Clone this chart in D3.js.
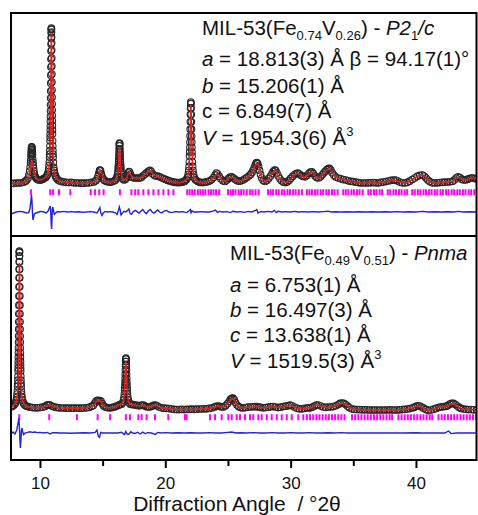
<!DOCTYPE html>
<html>
<head>
<meta charset="utf-8">
<script src="https://cdn.jsdelivr.net/npm/d3@7"></script>
<style>
  body { margin: 0; background: #fff; }
  svg text { font-family: "Liberation Sans", Arial, sans-serif; white-space: pre; }
</style>
</head>
<body>
<div class="wrapper"></div>
<script>
// observed / calculated patterns, rows are [2theta, Iobs, Icalc] (relative intensity)
var topPattern = [
  [7.70,0.3,0.3],[7.90,0.3,0.3],[8.10,0.4,0.4],[8.30,0.5,0.5],[8.50,0.6,0.6],[8.70,0.9,0.9],[8.85,1.4,1.3],[8.95,2.0,1.8],
  [9.05,3.0,2.6],[9.12,4.5,3.6],[9.18,6.5,5.0],[9.22,8.5,6.5],[9.25,10.5,7.8],[9.27,12.0,8.8],[9.29,14.0,9.6],[9.30,15.0,10.0],
  [9.31,16.0,10.4],[9.32,17.0,10.8],[9.33,18.0,11.0],[9.34,18.6,11.2],[9.35,18.5,11.2],[9.36,18.0,11.2],[9.37,17.3,11.0],
  [9.38,16.5,10.8],[9.39,15.5,10.6],[9.40,14.5,10.4],[9.42,12.5,10.0],[9.44,10.8,9.6],[9.46,9.3,9.2],[9.48,8.0,8.6],
  [9.51,6.6,7.6],[9.55,5.2,6.0],[9.60,4.0,4.6],[9.66,3.2,3.4],[9.73,2.6,2.7],[9.82,2.2,2.2],[9.92,2.0,2.0],[10.02,2.0,2.0],
  [10.10,2.1,2.1],[10.18,2.3,2.3],[10.28,2.6,2.6],[10.38,3.0,3.0],[10.47,3.4,3.4],[10.55,4.1,4.1],[10.61,4.9,4.9],[10.66,6.0,6.0],
  [10.70,7.5,7.5],[10.73,9.3,9.1],[10.75,11.0,10.7],[10.77,13.4,12.9],[10.78,14.9,14.3],[10.79,16.7,15.9],[10.80,19.0,18.0],
  [10.81,21.5,20.5],[10.815,23.2,22.0],[10.82,25.0,23.6],[10.825,27.0,25.4],[10.83,29.0,27.2],[10.835,31.3,29.2],[10.84,33.8,31.4],
  [10.845,36.6,33.8],[10.85,39.6,36.5],[10.855,43.0,39.5],[10.86,46.5,42.8],[10.865,50.4,46.4],[10.87,54.4,50.2],[10.875,58.5,54.2],
  [10.88,62.5,58.2],[10.885,66.5,62.2],[10.89,70.0,66.0],[10.895,73.0,69.4],[10.90,75.5,72.2],[10.905,77.2,74.2],[10.91,78.0,75.3],
  [10.915,77.5,75.5],[10.92,76.0,74.8],[10.925,73.5,73.2],[10.93,70.5,70.8],[10.935,67.0,67.8],[10.94,63.0,64.4],[10.945,59.0,60.8],
  [10.95,55.0,57.0],[10.955,51.0,53.2],[10.96,47.0,49.4],[10.965,43.4,45.8],[10.97,40.0,42.3],[10.975,37.0,39.1],[10.98,34.2,36.1],
  [10.985,31.6,33.4],[10.99,29.2,30.9],[10.995,27.0,28.6],[11.00,25.0,26.5],[11.01,21.6,22.8],[11.02,19.0,19.9],[11.03,16.8,17.6],
  [11.04,15.0,15.6],[11.05,13.4,13.9],[11.07,10.8,11.2],[11.10,8.3,8.6],[11.13,6.8,6.8],[11.17,5.4,5.4],[11.22,4.3,4.3],
  [11.28,3.4,3.4],[11.35,2.7,2.7],[11.45,2.0,2.0],[11.58,1.5,1.5],[11.72,1.2,1.2],[11.90,1.0,1.0],
  [12.10,0.8,0.8],[12.30,0.7,0.7],[12.50,0.8,0.8],[12.70,0.6,0.6],[12.90,0.5,0.5],[13.10,0.5,0.5],[13.30,0.4,0.4],[13.50,0.4,0.4],
  [13.70,0.5,0.5],[13.90,0.6,0.6],[14.10,0.8,0.8],[14.30,1.0,1.0],[14.45,1.6,1.6],[14.55,2.5,2.4],[14.63,3.8,3.4],[14.70,5.5,4.9],
  [14.76,6.8,6.2],[14.80,7.0,6.6],[14.84,6.5,6.6],[14.90,5.0,5.8],[14.97,3.5,4.4],[15.05,2.5,3.0],[15.15,1.8,2.0],[15.30,1.3,1.3],
  [15.45,1.0,1.0],[15.60,0.9,0.9],[15.75,1.1,1.1],[15.90,1.5,1.5],[16.00,1.9,1.9],[16.10,2.8,2.8],[16.16,3.8,3.8],[16.20,4.9,4.9],
  [16.23,6.3,6.3],[16.25,7.8,7.8],[16.26,8.7,8.7],[16.27,9.7,9.7],[16.28,11.0,11.0],[16.29,12.5,12.3],[16.30,14.1,13.6],
  [16.31,15.8,14.9],[16.32,17.5,16.2],[16.33,19.1,17.2],[16.34,20.1,17.8],[16.35,20.5,18.0],[16.36,20.1,17.9],[16.37,19.1,17.4],
  [16.38,17.5,16.5],[16.39,15.8,15.3],[16.40,14.1,13.9],[16.41,12.5,12.5],[16.42,11.0,11.0],[16.43,9.7,9.7],[16.44,8.7,8.7],
  [16.45,7.8,7.8],[16.47,6.3,6.3],[16.50,4.9,4.9],[16.54,3.8,3.8],[16.60,2.6,2.6],[16.70,2.0,2.0],[16.80,2.2,2.2],[16.90,3.0,3.0],
  [16.98,4.2,4.0],[17.05,5.5,5.2],[17.10,6.2,5.8],[17.15,6.0,5.9],[17.22,4.8,5.0],[17.30,3.6,3.8],[17.40,3.2,3.2],[17.55,3.0,3.0],
  [17.70,3.0,3.0],[17.85,3.0,3.0],[17.98,3.0,3.0],[18.10,3.4,3.4],[18.25,4.2,4.0],[18.40,5.0,4.9],[18.55,5.8,5.7],[18.68,6.5,6.3],
  [18.78,6.8,6.6],[18.88,6.2,6.1],[19.00,5.0,5.0],[19.15,4.2,4.3],[19.30,4.0,4.0],[19.45,3.8,3.6],[19.60,3.5,3.4],[19.75,3.0,3.0],
  [19.90,2.6,2.6],[20.05,2.2,2.1],[20.20,1.8,1.7],[20.35,1.5,1.5],[20.50,1.2,1.2],[20.65,1.0,1.0],[20.80,0.8,0.8],[20.95,0.7,0.7],
  [21.10,0.7,0.7],[21.25,0.8,0.8],[21.40,1.0,1.0],[21.52,1.3,1.3],[21.59,1.7,1.7],[21.69,2.3,2.3],[21.77,3.3,3.3],[21.83,4.8,4.8],
  [21.87,6.7,6.7],[21.90,8.8,8.8],[21.92,11.0,11.0],[21.94,14.0,13.8],[21.95,16.0,15.7],[21.96,18.2,17.8],[21.97,20.9,20.4],
  [21.98,24.0,23.4],[21.99,27.4,26.6],[22.00,31.1,30.1],[22.01,34.8,33.6],[22.02,38.0,36.8],[22.03,40.2,38.8],[22.04,41.0,39.5],
  [22.05,40.2,39.0],[22.06,38.0,37.2],[22.07,34.8,34.4],[22.08,31.1,30.9],[22.09,27.4,27.3],[22.10,24.0,24.0],[22.11,20.9,20.9],
  [22.12,18.2,18.2],[22.13,16.0,16.0],[22.14,14.0,14.0],[22.16,11.0,11.0],[22.18,8.8,8.8],[22.21,6.7,6.7],[22.25,4.8,4.8],
  [22.31,3.3,3.3],[22.39,2.3,2.3],[22.49,1.7,1.7],[22.62,1.2,1.2],[22.78,0.8,0.8],[22.95,0.7,0.7],[23.10,0.8,0.8],[23.25,1.0,1.0],
  [23.40,1.2,1.2],[23.55,1.6,1.6],[23.70,2.2,2.2],[23.85,3.2,3.0],[23.97,4.5,4.0],[24.08,5.5,4.8],[24.18,5.0,4.9],[24.30,3.8,3.6],
  [24.45,2.5,2.4],[24.60,1.6,1.6],[24.76,1.3,1.3],[24.92,2.0,1.9],[25.05,2.8,2.8],[25.18,3.4,3.5],[25.30,3.6,3.4],[25.45,3.0,2.9],
  [25.60,2.2,2.2],[25.75,1.6,1.6],[25.90,1.4,1.4],[26.05,1.6,1.6],[26.20,2.0,2.0],[26.35,2.6,2.6],[26.50,3.2,3.2],[26.65,4.0,4.0],
  [26.80,4.8,4.8],[26.92,5.8,5.8],[27.02,7.0,6.9],[27.10,8.2,8.0],[27.18,9.5,9.1],[27.25,10.4,9.8],[27.31,10.7,10.0],[27.37,10.2,10.2],
  [27.44,8.8,9.2],[27.52,6.8,7.0],[27.60,4.8,4.9],[27.70,3.0,3.0],[27.82,1.8,1.8],[27.96,1.3,1.3],[28.10,1.8,1.8],[28.25,2.8,2.8],
  [28.40,4.0,4.0],[28.52,5.2,5.0],[28.62,6.3,6.0],[28.72,7.0,6.6],[28.80,6.8,6.8],[28.90,5.6,5.8],[29.02,4.0,4.0],[29.15,2.6,2.6],
  [29.30,1.5,1.5],[29.45,0.9,0.9],[29.58,0.7,0.7],[29.72,1.0,1.0],[29.86,1.8,1.8],[30.00,2.8,2.8],[30.15,3.8,3.7],[30.30,4.6,4.4],
  [30.45,5.2,5.1],[30.58,5.5,5.5],[30.70,5.0,5.0],[30.85,4.2,4.2],[31.00,3.8,3.8],[31.15,3.6,3.6],[31.30,4.2,4.2],[31.45,5.2,5.0],
  [31.58,5.9,5.7],[31.70,6.1,6.0],[31.82,5.2,5.2],[31.95,4.0,4.0],[32.08,3.2,3.2],[32.22,3.0,3.0],[32.38,3.6,3.6],[32.52,4.6,4.6],
  [32.65,5.6,5.5],[32.78,6.4,6.3],[32.90,7.2,7.0],[33.00,7.7,7.4],[33.10,7.8,7.6],[33.20,7.0,7.1],[33.32,5.6,5.7],[33.45,4.4,4.4],
  [33.60,3.5,3.5],[33.80,3.0,3.0],[34.00,2.6,2.6],[34.20,2.2,2.2],[34.40,2.0,2.0],[34.60,1.6,1.6],[34.80,1.3,1.3],[35.00,1.2,1.2],
  [35.20,0.9,0.9],[35.40,0.7,0.7],[35.60,0.5,0.5],[35.80,0.5,0.5],[36.00,0.5,0.5],[36.20,0.6,0.6],[36.40,0.6,0.6],[36.60,0.7,0.7],
  [36.80,0.6,0.6],[37.00,0.5,0.5],[37.20,0.8,0.8],[37.40,1.0,1.0],[37.60,1.2,1.2],[37.80,1.5,1.5],[38.00,1.8,1.8],[38.20,2.0,2.0],
  [38.35,2.0,1.9],[38.50,1.6,1.6],[38.70,1.0,1.0],[38.90,0.6,0.6],[39.10,0.5,0.5],[39.30,0.8,0.8],[39.50,1.4,1.4],[39.70,2.2,2.2],
  [39.90,3.0,3.0],[40.10,3.8,3.8],[40.30,4.3,4.2],[40.50,4.5,4.3],[40.65,4.0,4.0],[40.80,3.0,3.1],[40.95,2.0,2.0],[41.10,1.2,1.2],
  [41.30,0.6,0.6],[41.50,0.5,0.5],[41.70,0.6,0.6],[41.90,0.7,0.7],[42.10,0.8,0.8],[42.30,0.9,0.9],[42.50,1.0,1.0],[42.70,1.1,1.1],
  [42.90,1.3,1.3],[43.05,2.0,2.0],[43.20,3.0,2.9],[43.35,3.6,3.4],[43.50,3.2,3.2],[43.65,2.4,2.4],[43.80,2.0,2.0],[43.95,2.0,2.0],
  [44.10,2.3,2.3],[44.25,2.7,2.7],[44.40,3.0,3.0],[44.55,3.0,3.0],[44.70,2.7,2.7],[44.85,2.5,2.5]
];

var bottomPattern = [
  [7.70,1.0,1.0],[7.80,1.4,1.4],[7.91,1.9,1.9],[7.99,2.5,2.4],[8.06,3.3,3.1],[8.11,4.4,4.0],[8.15,5.8,5.2],[8.18,7.5,6.6],
  [8.20,9.1,8.0],[8.22,11.3,9.8],[8.23,12.7,11.0],[8.24,14.4,12.5],[8.25,16.4,14.2],[8.26,19.0,16.4],[8.265,20.4,17.6],
  [8.27,22.1,19.1],[8.275,23.9,20.7],[8.28,25.9,22.5],[8.285,28.1,24.4],[8.29,30.6,26.6],[8.295,33.4,29.0],[8.30,36.5,31.8],
  [8.305,39.9,34.8],[8.31,43.6,38.1],[8.315,47.6,41.7],[8.32,51.9,45.6],[8.325,56.5,49.8],[8.33,61.1,54.2],[8.335,65.6,58.5],
  [8.34,69.9,62.6],[8.345,73.6,66.3],[8.35,76.5,69.6],[8.355,78.4,71.8],[8.36,79.0,73.0],[8.365,78.4,72.8],[8.37,76.5,71.6],
  [8.375,73.6,69.4],[8.38,69.9,66.5],[8.385,65.6,63.0],[8.39,61.1,59.2],[8.395,56.5,55.2],[8.40,51.9,51.0],[8.405,47.6,47.2],
  [8.41,43.6,43.6],[8.415,39.9,40.2],[8.42,36.5,37.0],[8.425,33.4,34.0],[8.43,30.6,31.3],[8.435,28.1,28.8],[8.44,25.9,26.6],
  [8.445,23.9,24.6],[8.45,22.1,22.8],[8.455,20.4,21.1],[8.46,19.0,19.6],[8.47,16.4,16.9],[8.48,14.4,14.8],[8.49,12.7,13.0],
  [8.50,11.3,11.5],[8.52,9.1,9.2],[8.54,7.5,7.5],[8.57,5.8,5.8],[8.61,4.4,4.4],[8.66,3.3,3.3],[8.73,2.5,2.5],[8.81,1.9,1.9],
  [8.91,1.5,1.5],[9.01,1.2,1.2],[9.20,0.9,0.9],[9.40,0.7,0.7],[9.60,0.6,0.6],[9.80,0.6,0.6],[10.00,0.7,0.7],[10.20,0.9,0.9],
  [10.40,1.3,1.3],[10.55,1.9,1.8],[10.68,2.1,2.0],[10.80,2.0,2.0],[10.95,1.5,1.5],[11.10,1.1,1.1],[11.30,0.8,0.8],[11.50,0.6,0.6],
  [11.70,0.5,0.5],[11.90,0.5,0.5],[12.10,0.4,0.4],[12.30,0.4,0.4],[12.50,0.4,0.4],[12.70,0.4,0.4],[12.90,0.5,0.5],[13.10,0.4,0.4],
  [13.30,0.4,0.4],[13.50,0.5,0.5],[13.70,0.6,0.6],[13.90,0.8,0.8],[14.10,1.2,1.2],[14.25,1.8,1.8],[14.38,3.0,2.8],[14.48,4.0,3.6],
  [14.58,4.3,4.2],[14.68,4.2,4.6],[14.78,4.2,4.5],[14.88,3.8,3.6],[14.98,2.6,2.6],[15.08,1.6,1.6],[15.20,1.0,1.0],[15.35,0.7,0.7],
  [15.50,0.6,0.6],[15.65,0.6,0.6],[15.80,0.8,0.8],[15.95,1.0,1.0],[16.10,1.4,1.4],[16.25,1.8,1.8],[16.38,2.2,2.2],[16.51,2.4,2.4],
  [16.61,3.2,3.2],[16.67,4.4,4.4],[16.71,5.8,5.8],[16.74,7.6,7.6],[16.76,9.4,9.6],[16.77,10.5,10.8],[16.78,11.9,12.2],
  [16.79,13.5,13.7],[16.80,15.3,15.4],[16.81,17.4,17.2],[16.82,19.6,19.0],[16.83,21.8,20.7],[16.84,23.7,22.0],[16.85,25.0,22.8],
  [16.86,25.5,23.0],[16.87,25.0,22.8],[16.88,23.7,22.0],[16.89,21.8,20.8],[16.90,19.6,19.2],[16.91,17.4,17.3],[16.92,15.3,15.3],
  [16.93,13.5,13.5],[16.94,11.9,11.9],[16.95,10.5,10.5],[16.96,9.4,9.4],[16.98,7.6,7.6],[17.01,5.8,5.8],[17.05,4.4,4.4],
  [17.11,3.2,3.2],[17.21,2.4,2.4],[17.33,2.2,2.2],[17.45,2.2,2.2],[17.60,2.0,2.0],[17.75,1.8,1.8],[17.90,1.6,1.6],[18.05,1.8,1.8],
  [18.20,2.0,2.0],[18.30,1.8,1.8],[18.45,1.2,1.2],[18.60,1.0,1.0],[18.75,1.0,1.0],[18.90,1.3,1.3],[19.05,1.8,1.8],[19.20,2.0,2.0],
  [19.35,1.6,1.6],[19.50,1.0,1.0],[19.70,0.6,0.6],[19.90,0.4,0.4],[20.10,0.3,0.3],[20.30,0.2,0.2],[20.50,0.0,0.0],[20.70,-0.2,-0.2],
  [20.90,-0.3,-0.3],[21.10,-0.3,-0.3],[21.30,-0.2,-0.2],[21.50,-0.3,-0.3],[21.70,-0.2,-0.2],[21.90,-0.2,-0.2],[22.10,-0.1,-0.1],
  [22.30,-0.2,-0.2],[22.50,-0.1,-0.1],[22.70,0.0,0.0],[22.90,0.0,0.0],[23.10,0.1,0.1],[23.30,0.1,0.1],[23.50,0.3,0.3],[23.70,0.5,0.5],
  [23.90,0.9,0.9],[24.05,1.3,1.3],[24.20,1.5,1.5],[24.35,1.3,1.3],[24.50,1.0,1.0],[24.65,1.0,1.0],[24.80,1.6,1.6],[24.95,2.6,2.5],
  [25.10,3.8,3.6],[25.20,4.8,4.5],[25.30,5.3,5.0],[25.40,5.4,5.2],[25.50,4.6,4.6],[25.60,3.2,3.3],[25.72,2.0,2.0],[25.85,1.2,1.2],
  [26.00,0.7,0.7],[26.20,0.5,0.5],[26.40,0.7,0.7],[26.60,0.9,0.9],[26.80,1.0,1.0],[27.00,1.1,1.1],[27.15,1.2,1.2],[27.30,1.2,1.2],
  [27.45,1.0,1.0],[27.60,0.8,0.8],[27.80,0.6,0.6],[28.00,0.7,0.7],[28.20,0.9,0.9],[28.40,1.1,1.1],[28.60,1.2,1.2],[28.80,1.0,1.0],
  [29.00,0.7,0.7],[29.20,0.9,0.9],[29.40,1.2,1.2],[29.60,1.4,1.4],[29.80,1.6,1.6],[29.95,2.0,1.9],[30.10,1.6,1.6],[30.30,1.0,1.0],
  [30.50,0.4,0.4],[30.70,0.0,0.0],[30.90,0.1,0.1],[31.10,0.3,0.3],[31.30,0.5,0.5],[31.45,0.6,0.6],[31.60,0.6,0.6],[31.75,1.0,1.0],
  [31.90,1.5,1.5],[32.05,2.0,2.0],[32.20,2.0,2.0],[32.40,1.5,1.5],[32.60,1.0,1.0],[32.80,0.8,0.8],[33.00,1.0,1.0],[33.20,1.0,1.0],
  [33.40,1.2,1.2],[33.60,1.6,1.6],[33.80,2.2,2.2],[33.95,2.8,2.7],[34.10,3.0,2.9],[34.25,2.8,2.7],[34.40,2.2,2.2],[34.55,1.4,1.4],
  [34.70,0.6,0.6],[34.90,0.0,0.0],[35.10,-0.2,-0.2],[35.30,-0.3,-0.3],[35.50,-0.3,-0.3],[35.70,-0.4,-0.4],[35.90,-0.4,-0.4],
  [36.10,-0.4,-0.4],[36.30,-0.5,-0.5],[36.50,-0.5,-0.5],[36.70,-0.5,-0.5],[36.90,-0.5,-0.5],[37.10,-0.5,-0.5],[37.30,-0.5,-0.5],
  [37.50,-0.5,-0.5],[37.70,-0.5,-0.5],[37.90,-0.4,-0.4],[38.10,-0.5,-0.5],[38.30,-0.5,-0.5],[38.50,-0.5,-0.5],[38.70,-0.4,-0.4],
  [38.90,-0.3,-0.3],[39.10,-0.2,-0.2],[39.30,0.0,0.0],[39.50,0.2,0.2],[39.70,0.5,0.5],[39.85,0.8,0.8],[40.00,1.3,1.3],[40.15,1.6,1.6],
  [40.30,1.5,1.5],[40.45,1.0,1.0],[40.60,0.4,0.4],[40.80,-0.2,-0.2],[41.00,-0.8,-0.8],[41.20,-0.5,-0.5],[41.40,-0.1,-0.1],
  [41.60,0.3,0.3],[41.80,0.7,0.7],[41.95,1.0,1.0],[42.10,1.1,1.1],[42.25,1.2,1.2],[42.40,1.3,1.2],[42.55,1.8,1.6],[42.70,2.4,2.2],
  [42.85,2.8,2.6],[43.00,2.8,2.8],[43.15,2.2,2.2],[43.30,1.5,1.5],[43.45,0.8,0.8],[43.60,0.3,0.3],[43.80,0.0,0.0],[44.00,-0.2,-0.2],
  [44.20,-0.3,-0.3],[44.40,-0.3,-0.3],[44.60,-0.4,-0.4],[44.85,-0.4,-0.4]
];

// difference curves [2theta, Iobs - Icalc]
var topDiff = [
  [7.7,-1.0],[7.9,-0.5],[8.1,0.0],[8.4,0.3],[8.7,0.0],[8.95,-0.5],[9.1,-0.3],[9.2,1.5],[9.27,5],[9.32,8.5],[9.36,6],[9.40,0],
  [9.44,-4],[9.48,-3],[9.55,-1],[9.7,-0.5],[9.9,0],[10.1,0.3],[10.3,0],[10.5,-0.5],[10.65,0.5],[10.75,2.0],[10.82,3.0],[10.86,0],
  [10.90,-6],[10.93,-8.5],[10.96,-4],[10.99,1.5],[11.03,2.5],[11.08,0.5],[11.15,-1.2],[11.25,-0.5],[11.4,0.2],[11.6,0],[11.9,0.3],
  [12.2,0],[12.5,0.2],[12.8,0],[13.1,0.1],[13.4,-0.1],[13.7,0],[14.0,0.2],[14.3,0],[14.55,-0.5],[14.68,1.0],[14.78,2.2],[14.86,-0.5],
  [14.95,-1.8],[15.05,-0.5],[15.2,0.3],[15.4,0],[15.6,0.2],[15.8,0],[16.0,-0.3],[16.15,-1.2],[16.25,0.5],[16.33,2.5],[16.40,1.0],
  [16.47,-1.5],[16.55,-0.8],[16.7,0.3],[16.85,0],[17.0,0.8],[17.1,1.5],[17.2,-0.8],[17.3,-1.2],[17.45,0.2],[17.6,0.8],[17.75,0.2],
  [17.9,-0.5],[18.05,0.4],[18.2,1.2],[18.35,0],[18.5,-0.8],[18.65,0.6],[18.8,1.3],[18.95,0],[19.1,-0.6],[19.25,0.3],[19.4,1.0],
  [19.55,0],[19.7,-0.5],[19.9,0.4],[20.1,0.8],[20.3,0],[20.5,-0.3],[20.8,0.2],[21.1,0],[21.4,0.2],[21.7,-0.3],[21.9,0.6],[22.0,1.2],
  [22.06,-0.4],[22.12,0.5],[22.3,0],[22.6,0],[22.9,0.2],[23.2,0],[23.5,0],[23.8,0.4],[24.0,1.0],[24.15,-0.2],[24.3,0.3],[24.6,0],
  [24.9,0.2],[25.2,-0.3],[25.4,0.4],[25.7,0],[26.0,0.2],[26.3,-0.2],[26.6,0.3],[26.9,0],[27.2,0.8],[27.3,1.2],[27.4,-0.5],[27.6,0.2],
  [27.9,0],[28.2,0.3],[28.5,0],[28.7,0.8],[28.85,-0.3],[29.0,0.4],[29.3,0],[29.6,0.2],[30.0,0],[30.3,0.3],[30.6,0],[31.0,0.2],
  [31.4,0],[31.8,0.2],[32.2,0],[32.6,0.2],[33.0,0.4],[33.2,0],[33.6,0.1],[34.0,0],[34.5,0.1],[35.0,0],[35.5,0.1],[36.0,0],
  [36.5,0.1],[37.0,0],[37.5,0.1],[38.0,0],[38.5,0.2],[39.0,0],[39.5,0.1],[40.0,0],[40.5,0.3],[41.0,0],[41.5,0.1],[42.0,0],
  [42.5,0.1],[43.0,0],[43.4,0.3],[43.8,0],[44.3,0.1],[44.85,0]
];

var bottomDiff = [
  [7.7,-0.5],[7.85,0.5],[8.0,-0.5],[8.15,1.5],[8.25,5],[8.32,7.5],[8.36,3],[8.40,-3],[8.44,-7.5],[8.48,-4],[8.52,1],[8.57,2.5],
  [8.62,0.5],[8.7,-0.8],[8.8,0],[9.0,0.3],[9.2,0.6],[9.4,0.3],[9.6,0.5],[9.8,0.2],[10.0,0.3],[10.3,0],[10.6,0.3],[10.8,-0.5],
  [11.0,0.2],[11.3,0.1],[11.6,0],[12.0,0],[12.5,-0.1],[13.0,0],[13.5,0.1],[14.0,0],[14.4,0.3],[14.55,1.5],[14.65,-1.5],[14.75,-2.2],
  [14.85,0.3],[15.0,0],[15.4,0],[15.8,0],[16.2,0],[16.5,0.4],[16.75,-0.8],[16.85,0.8],[16.95,-0.5],[17.1,-0.6],[17.25,0.6],
  [17.4,0],[17.6,-0.2],[17.8,0.4],[18.0,-0.5],[18.2,0.4],[18.4,-0.3],[18.6,0.2],[18.9,0],[19.2,-0.7],[19.4,0.3],[19.7,0],
  [20.0,0.2],[20.5,0],[21.0,0.1],[21.5,0],[22.0,0.1],[22.5,0],[23.0,0],[23.5,0.2],[24.0,0],[24.5,0],[25.0,0.3],[25.3,0.5],
  [25.6,0],[26.0,0.1],[26.5,0],[27.0,0.2],[27.5,0],[28.0,0],[28.5,0.2],[29.0,0],[29.5,0],[30.0,0.2],[30.5,0],[31.0,0],
  [31.5,0.2],[32.0,0],[32.5,0],[33.0,0.1],[33.5,0],[34.0,0.2],[34.5,0],[35.0,0],[36.0,0],[37.0,0],[38.0,0],[39.0,0],[40.0,0.1],
  [40.5,0],[41.5,0],[42.3,0],[42.6,1.0],[42.8,-0.3],[43.2,0],[44.0,0],[44.85,0]
];

// Bragg reflection positions (2theta)
var topReflections = [
  9.28,10.82,11.05,11.52,12.42,14.05,14.39,14.73,15.08,16.38,17.3,17.6,17.85,18.25,18.65,19.05,19.45,19.85,20.25,20.65,
  21.75,21.95,22.15,22.35,22.6,22.8,23.0,23.2,23.45,23.65,23.85,24.05,24.3,
  25.0,25.2,25.4,25.6,25.85,26.05,26.25,26.5,26.75,26.95,27.2,27.45,
  28.2,28.4,28.6,28.85,29.05,29.3,29.5,29.75,29.95,30.2,30.4,30.65,30.9,
  31.3,31.5,31.7,31.95,32.15,32.4,32.6,32.85,33.05,33.3,33.5,33.75,
  34.2,34.4,34.6,34.85,35.05,35.3,35.5,35.75,36.2,36.4,36.65,36.85,37.1,37.3,
  37.75,37.95,38.2,38.4,38.65,38.85,39.1,39.3,39.7,39.9,40.15,40.35,40.6,40.8,41.05,41.25,41.5,41.7,
  41.95,42.15,42.4,42.6,42.85,43.05,43.3,43.5,43.75,43.95,44.2,44.4,44.65
];

var bottomReflections = [
  8.35,10.74,12.95,14.6,15.6,16.86,17.18,17.85,18.11,18.51,19.18,20.24,21.57,21.7,
  23.57,23.97,24.5,25.03,25.3,25.7,25.96,26.36,26.76,27.02,27.42,27.69,28.09,28.49,28.89,29.29,29.69,30.09,30.61,31.01,
  31.3,31.55,31.8,32.05,32.3,32.55,32.8,33.05,33.3,33.55,33.8,34.05,34.3,34.9,35.15,35.4,35.65,35.9,36.15,36.4,36.65,
  36.9,37.15,37.4,37.65,37.9,38.1,38.6,38.85,39.1,39.35,39.6,39.85,40.1,40.35,40.6,40.85,41.1,41.3,
  41.8,42.05,42.3,42.55,42.8,43.05,43.3,43.55,43.8,44.05,44.3,44.55,44.8
];

var majorTicks = [10, 20, 30, 40];
var minorTicks = [15, 25, 35];
var xTitle = "Diffraction Angle\u00a0 / \u00b02\u03b8";

// annotation text, one array of runs per line
var topLabels = [
  [{t:"MIL-53(Fe"},{t:"0.74",sub:1},{t:"V"},{t:"0.26",sub:1},{t:") - "},{t:"P2",it:1},{t:"1",sub:1},{t:"/c",it:1}],
  [{t:"a",it:1},{t:" = 18.813(3) \u00c5 \u03b2 = 94.17(1)\u00b0"}],
  [{t:"b",it:1},{t:" = 15.206(1) \u00c5"}],
  [{t:"c = 6.849(7) \u00c5"}],
  [{t:"V",it:1},{t:" = 1954.3(6) \u00c5"},{t:"3",sup:1}]
];
var bottomLabels = [
  [{t:"MIL-53(Fe"},{t:"0.49",sub:1},{t:"V"},{t:"0.51",sub:1},{t:") - "},{t:"Pnma",it:1}],
  [{t:"a",it:1},{t:" = 6.753(1) \u00c5"}],
  [{t:"b",it:1},{t:" = 16.497(3) \u00c5"}],
  [{t:"c",it:1},{t:" = 13.638(1) \u00c5"}],
  [{t:"V",it:1},{t:" = 1519.5(3) \u00c5"},{t:"3",sup:1}]
];

var w = 478, h = 515;
var frameL = 11, frameR = 476.5, frameT = 13, frameM = 236, frameB = 460;

var svg = d3.select(".wrapper").append("svg")
    .attr("width", w)
    .attr("height", h);

var x = d3.scaleLinear().domain([7.69, 44.83]).range([frameL, frameR]);

var panels = [
  { pattern: topPattern, diff: topDiff, refl: topReflections, labels: topLabels,
    y: d3.scaleLinear().domain([-26, 85.5]).range([frameM, frameT]),
    y0: frameT, y1: frameM, diffBase: -14, textX: 202, baselines: [35, 66, 92.5, 118, 145] },
  { pattern: bottomPattern, diff: bottomDiff, refl: bottomReflections, labels: bottomLabels,
    y: d3.scaleLinear().domain([-25.5, 86.5]).range([frameB, frameM]),
    y0: frameM, y1: frameB, diffBase: -12, textX: 230, baselines: [260, 292, 317, 342, 368] }
];

panels.forEach(function(p, i) {
  var clipId = "clip" + i;
  svg.append("clipPath").attr("id", clipId)
    .append("rect")
      .attr("x", frameL).attr("y", p.y0)
      .attr("width", frameR - frameL).attr("height", p.y1 - p.y0);

  var g = svg.append("g").attr("clip-path", "url(#" + clipId + ")");
  var y = p.y;

  // observed: open circles
  g.selectAll("circle.obs")
      .data(p.pattern)
    .enter().append("circle")
      .attr("class", "obs")
      .attr("cx", function(d) { return x(d[0]); })
      .attr("cy", function(d) { return y(d[1]); })
      .attr("r", 3.3)
      .attr("fill", "none")
      .attr("stroke", "#262626")
      .attr("stroke-width", 1.1);

  // calculated: red line
  g.append("path")
      .datum(p.pattern)
      .attr("fill", "none")
      .attr("stroke", "#e3201f")
      .attr("stroke-width", 1.5)
      .attr("d", d3.line()
        .x(function(d) { return x(d[0]); })
        .y(function(d) { return y(d[2]); }));

  // reflection markers
  g.selectAll("line.refl")
      .data(p.refl)
    .enter().append("line")
      .attr("x1", function(d) { return x(d); })
      .attr("x2", function(d) { return x(d); })
      .attr("y1", y(-2.6))
      .attr("y2", y(-5.6))
      .attr("stroke", "#ff00ff")
      .attr("stroke-width", 2);

  // difference curve
  g.append("path")
      .datum(p.diff)
      .attr("fill", "none")
      .attr("stroke", "#2222dd")
      .attr("stroke-width", 1.4)
      .attr("d", d3.line()
        .x(function(d) { return x(d[0]); })
        .y(function(d) { return y(p.diffBase + d[1]); }));

  // cell parameter text
  p.labels.forEach(function(runs, k) {
    var txt = svg.append("text")
        .attr("x", p.textX)
        .attr("y", p.baselines[k])
        .attr("font-size", 20.5)
        .attr("fill", "#111");
    var shift = 0;
    runs.forEach(function(r) {
      var want = r.sub ? 5 : (r.sup ? -9 : 0);
      var ts = txt.append("tspan").text(r.t).attr("dy", want - shift);
      shift = want;
      if (r.sub || r.sup) ts.attr("font-size", 13);
      if (r.it) ts.attr("font-style", "italic");
    });
  });
});

// frame
svg.append("rect")
    .attr("x", frameL).attr("y", frameT)
    .attr("width", frameR - frameL).attr("height", frameB - frameT)
    .attr("fill", "none").attr("stroke", "#000").attr("stroke-width", 2);
svg.append("line")
    .attr("x1", frameL).attr("x2", frameR)
    .attr("y1", frameM).attr("y2", frameM)
    .attr("stroke", "#000").attr("stroke-width", 2);

// x axis
var axis = svg.append("g")
    .attr("transform", "translate(0," + frameB + ")")
    .call(d3.axisBottom(x).tickValues(majorTicks).tickSize(8).tickPadding(9).tickFormat(d3.format("d")));
axis.select(".domain").remove();
axis.selectAll("line").attr("stroke-width", 2);
axis.selectAll("text")
    .attr("font-size", 17)
    .attr("font-family", "Liberation Sans, Arial, sans-serif")
    .attr("fill", "#111");

var minor = svg.append("g")
    .attr("transform", "translate(0," + frameB + ")")
    .call(d3.axisBottom(x).tickValues(minorTicks).tickSize(6).tickFormat(""));
minor.select(".domain").remove();
minor.selectAll("line").attr("stroke-width", 2);

svg.append("text")
    .attr("x", 237)
    .attr("y", 511)
    .attr("text-anchor", "middle")
    .attr("font-size", 21)
    .attr("fill", "#111")
    .text(xTitle);
</script>
</body>
</html>
